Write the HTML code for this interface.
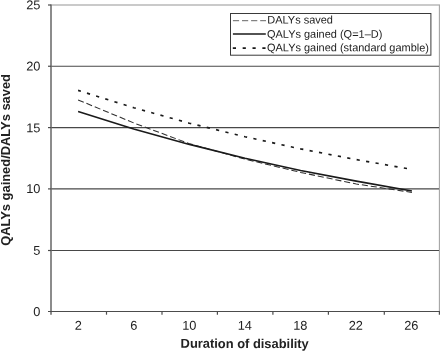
<!DOCTYPE html>
<html>
<head>
<meta charset="utf-8">
<style>
html,body{margin:0;padding:0;background:#fff;}
body{width:440px;height:351px;overflow:hidden;}
svg{display:block;will-change:transform;}
text{font-family:"Liberation Sans",sans-serif;fill:#222;}
</style>
</head>
<body>
<svg width="440" height="351" viewBox="0 0 440 351">
<rect x="0" y="0" width="440" height="351" fill="#ffffff"/>
<!-- plot border (light) -->
<line x1="51" y1="5" x2="440" y2="5" stroke="#b8b8b8" stroke-width="1.3"/>
<line x1="439.5" y1="5" x2="439.5" y2="311" stroke="#a8a8a8" stroke-width="1.3"/>
<!-- gridlines -->
<g stroke="#484848" stroke-width="1.2" fill="none">
<line x1="51" y1="66.25" x2="439" y2="66.25"/>
<line x1="51" y1="127.6" x2="439" y2="127.6"/>
<line x1="51" y1="188.9" x2="439" y2="188.9"/>
<line x1="51" y1="250.5" x2="439" y2="250.5"/>
</g>
<!-- axes -->
<g stroke="#4c4c4c" stroke-width="1.2" fill="none">
<line x1="51" y1="4.4" x2="51" y2="314.7" stroke="#666" stroke-width="1.5"/>
<line x1="48" y1="311.5" x2="440" y2="311.5"/>
<line x1="48" y1="5" x2="51" y2="5"/>
<line x1="48" y1="66.25" x2="51" y2="66.25"/>
<line x1="48" y1="127.6" x2="51" y2="127.6"/>
<line x1="48" y1="188.9" x2="51" y2="188.9"/>
<line x1="48" y1="250.5" x2="51" y2="250.5"/>
<line x1="106.5" y1="311.5" x2="106.5" y2="314.7"/>
<line x1="162" y1="311.5" x2="162" y2="314.7"/>
<line x1="217.4" y1="311.5" x2="217.4" y2="314.7"/>
<line x1="272.9" y1="311.5" x2="272.9" y2="314.7"/>
<line x1="328.4" y1="311.5" x2="328.4" y2="314.7"/>
<line x1="384.3" y1="311.5" x2="384.3" y2="314.7"/>
<line x1="439.4" y1="311.5" x2="439.4" y2="314.7"/>
</g>
<!-- series -->
<polyline points="78.1,90.4 133.7,107.7 189.4,123.2 245,136.7 300.6,148.9 356.3,159.6 411.9,169.4" fill="none" stroke="#1a1a1a" stroke-width="1.65" stroke-dasharray="3.2 6.385" stroke-dashoffset="0.3"/>
<polyline points="78.1,99.9 133.7,122.9 189.4,143.7 245,159.1 300.6,172.4 356.3,184 411.9,192.4" fill="none" stroke="#2e2e2e" stroke-width="1.05" stroke-dasharray="6.1 2.9"/>
<polyline points="78.1,111.6 133.7,129.1 189.4,144.4 245,158.3 300.6,170.5 356.3,181.1 411.9,191" fill="none" stroke="#1a1a1a" stroke-width="1.6"/>
<!-- legend -->
<rect x="230.5" y="13.5" width="200.4" height="41.7" fill="#fff" stroke="#3a3a3a" stroke-width="1"/>
<line x1="232.9" y1="20.7" x2="266" y2="20.7" stroke="#666" stroke-width="1" stroke-dasharray="6.2 2.9"/>
<line x1="232.9" y1="34" x2="265.8" y2="34" stroke="#1a1a1a" stroke-width="1.6"/>
<line x1="232.8" y1="48.1" x2="266" y2="48.1" stroke="#1a1a1a" stroke-width="1.7" stroke-dasharray="3.2 6.65"/>
<g font-size="10.97px">
<text x="267.3" y="23.6" text-anchor="start" transform="rotate(0.03 267.3 23.6)">DALYs saved</text>
<text x="267.0" y="37.7" text-anchor="start" transform="rotate(0.03 267.0 37.7)">QALYs gained (Q=1&#8211;D)</text>
<text x="267.0" y="51.3" text-anchor="start" transform="rotate(0.03 267.0 51.3)">QALYs gained (standard gamble)</text>
</g>
<g font-size="12.8px">
<text x="40.4" y="9.2" text-anchor="end" transform="rotate(0.03 40.4 9.2)">25</text>
<text x="40.4" y="70.5" text-anchor="end" transform="rotate(0.03 40.4 70.5)">20</text>
<text x="40.4" y="132.2" text-anchor="end" transform="rotate(0.03 40.4 132.2)">15</text>
<text x="40.4" y="193.1" text-anchor="end" transform="rotate(0.03 40.4 193.1)">10</text>
<text x="40.4" y="254.8" text-anchor="end" transform="rotate(0.03 40.4 254.8)">5</text>
<text x="40.4" y="316.0" text-anchor="end" transform="rotate(0.03 40.4 316.0)">0</text>
</g>
<g font-size="12.8px">
<text x="78.3" y="329.8" text-anchor="middle" transform="rotate(0.03 78.3 329.8)">2</text>
<text x="133.8" y="329.8" text-anchor="middle" transform="rotate(0.03 133.8 329.8)">6</text>
<text x="189.3" y="329.8" text-anchor="middle" transform="rotate(0.03 189.3 329.8)">10</text>
<text x="244.8" y="329.8" text-anchor="middle" transform="rotate(0.03 244.8 329.8)">14</text>
<text x="300.3" y="329.8" text-anchor="middle" transform="rotate(0.03 300.3 329.8)">18</text>
<text x="355.8" y="329.8" text-anchor="middle" transform="rotate(0.03 355.8 329.8)">22</text>
<text x="411.3" y="329.8" text-anchor="middle" transform="rotate(0.03 411.3 329.8)">26</text>
</g>
<g font-size="12.9px" font-weight="bold">
<text x="244.7" y="347.9" text-anchor="middle" transform="rotate(0.03 244.7 347.9)">Duration of disability</text>
<text transform="translate(9.6,159.9) rotate(-90)" text-anchor="middle">QALYs gained/DALYs saved</text>
</g>
</svg>
</body>
</html>
